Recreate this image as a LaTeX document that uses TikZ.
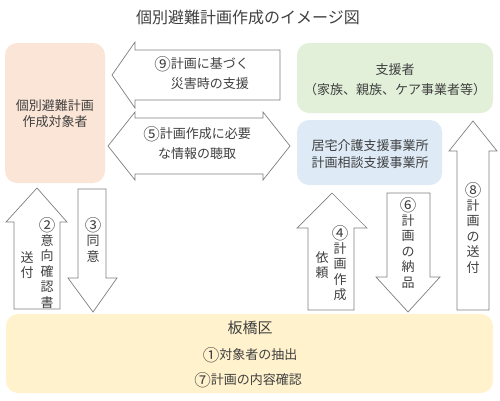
\documentclass[tikz,border=0pt]{standalone}
\usepackage{fontspec}
\setmainfont{Noto Sans CJK JP}
\definecolor{peach}{HTML}{FBE5D6}
\definecolor{leaf}{HTML}{E2F0D9}
\definecolor{sky}{HTML}{DEEBF7}
\definecolor{cream}{HTML}{FFF2CC}
\definecolor{textgray}{HTML}{404040}
\definecolor{linegray}{HTML}{7F7F7F}
\newcommand{\maru}[1]{\raisebox{-1.5pt}{\fontsize{16.5}{16.5}\selectfont #1}}
\tikzset{
	roundbox/.style={rounded corners=12pt, draw=none},
	blockarrow/.style={draw=linegray, fill=white, line width=0.7pt, line join=miter},
	txt/.style={text=textgray, align=center, inner sep=0pt},
	tate/.style={txt, font=\fontsize{13}{15.5}\selectfont}
}
\begin{document}
\begin{tikzpicture}[x=1pt,y=-1pt]
			\useasboundingbox (0,0) rectangle (500,400);
			%title
			\node[txt, font=\fontsize{16}{19}\selectfont] (title) at (248,17){個別避難計画作成のイメージ図};
			
			%boxes
			\fill[roundbox, peach] (5,43) rectangle (105,183);
			\fill[roundbox, leaf] (297,43) rectangle (493,113);
			\fill[roundbox, sky] (297,120) rectangle (442,185);
			\fill[roundbox, cream] (6,314) rectangle (493,393);
			\node[txt, font=\fontsize{13}{16}\selectfont] (target) at (55,114){個別避難計画\\作成対象者};
			\node[txt, font=\fontsize{13}{20}\selectfont] (supporter) at (395,80){支援者\\（家族、親族、ケア事業者等）};
			\node[txt, font=\fontsize{13}{17}\selectfont] (office) at (370,154){居宅介護支援事業所\\計画相談支援事業所};
			\node[txt, font=\fontsize{15}{18}\selectfont] (ward) at (250,328){板橋区};
			\node[txt, font=\fontsize{13}{16}\selectfont] (extract) at (250,355){\maru{①}対象者の抽出};
			\node[txt, font=\fontsize{13}{16}\selectfont] (check) at (248,380){\maru{⑦}計画の内容確認};
			
			%horizontal arrows
			\draw[blockarrow] (112,75) -- (135,42) -- (135,50) -- (280,50) -- (280,100) -- (135,100) -- (135,108) -- cycle;
			\node[txt, align=right, anchor=east, font=\fontsize{13}{20}\selectfont] (support) at (249,73){\maru{⑨}計画に基づく\\災害時の支援};
			\draw[blockarrow] (108,146) -- (135,112) -- (135,118) -- (263,118) -- (263,112) -- (290,146)
				-- (263,180) -- (263,174) -- (135,174) -- (135,180) -- cycle;
			\node[txt, font=\fontsize{13}{20}\selectfont] (hearing) at (197,143){\maru{⑤}計画作成に必要\\な情報の聴取};
			
			%vertical arrows
			\draw[blockarrow] (37,188) -- (67,222) -- (60,222) -- (60,309) -- (14,309) -- (14,222) -- (6,222) -- cycle;
			\node[tate] (intent) at (47,263){\maru{②}\\意\\向\\確\\認\\書};
			\node[tate] (send) at (27,265){送\\付};
			\draw[blockarrow] (78,189) -- (106,189) -- (106,278) -- (117,278) -- (93,312) -- (68,278) -- (78,278) -- cycle;
			\node[tate] (consent) at (93,240){\maru{③}\\同\\意};
			\draw[blockarrow] (332,193) -- (367,228) -- (354,228) -- (354,310) -- (308,310) -- (308,228) -- (297,228) -- cycle;
			\node[tate] (making) at (340,263){\maru{④}\\計\\画\\作\\成};
			\node[tate] (request) at (322,265){依\\頼};
			\draw[blockarrow] (387,193) -- (430,193) -- (430,277) -- (440,277) -- (408,312) -- (376,277) -- (387,277) -- cycle;
			\node[tate] (delivery) at (408,243){\maru{⑥}\\計\\画\\の\\納\\品};
			\draw[blockarrow] (473,121) -- (497,151) -- (489,151) -- (489,310) -- (457,310) -- (457,151) -- (449,151) -- cycle;
			\node[tate] (forward) at (473,228){\maru{⑧}\\計\\画\\の\\送\\付};
		\end{tikzpicture}
\end{document}
